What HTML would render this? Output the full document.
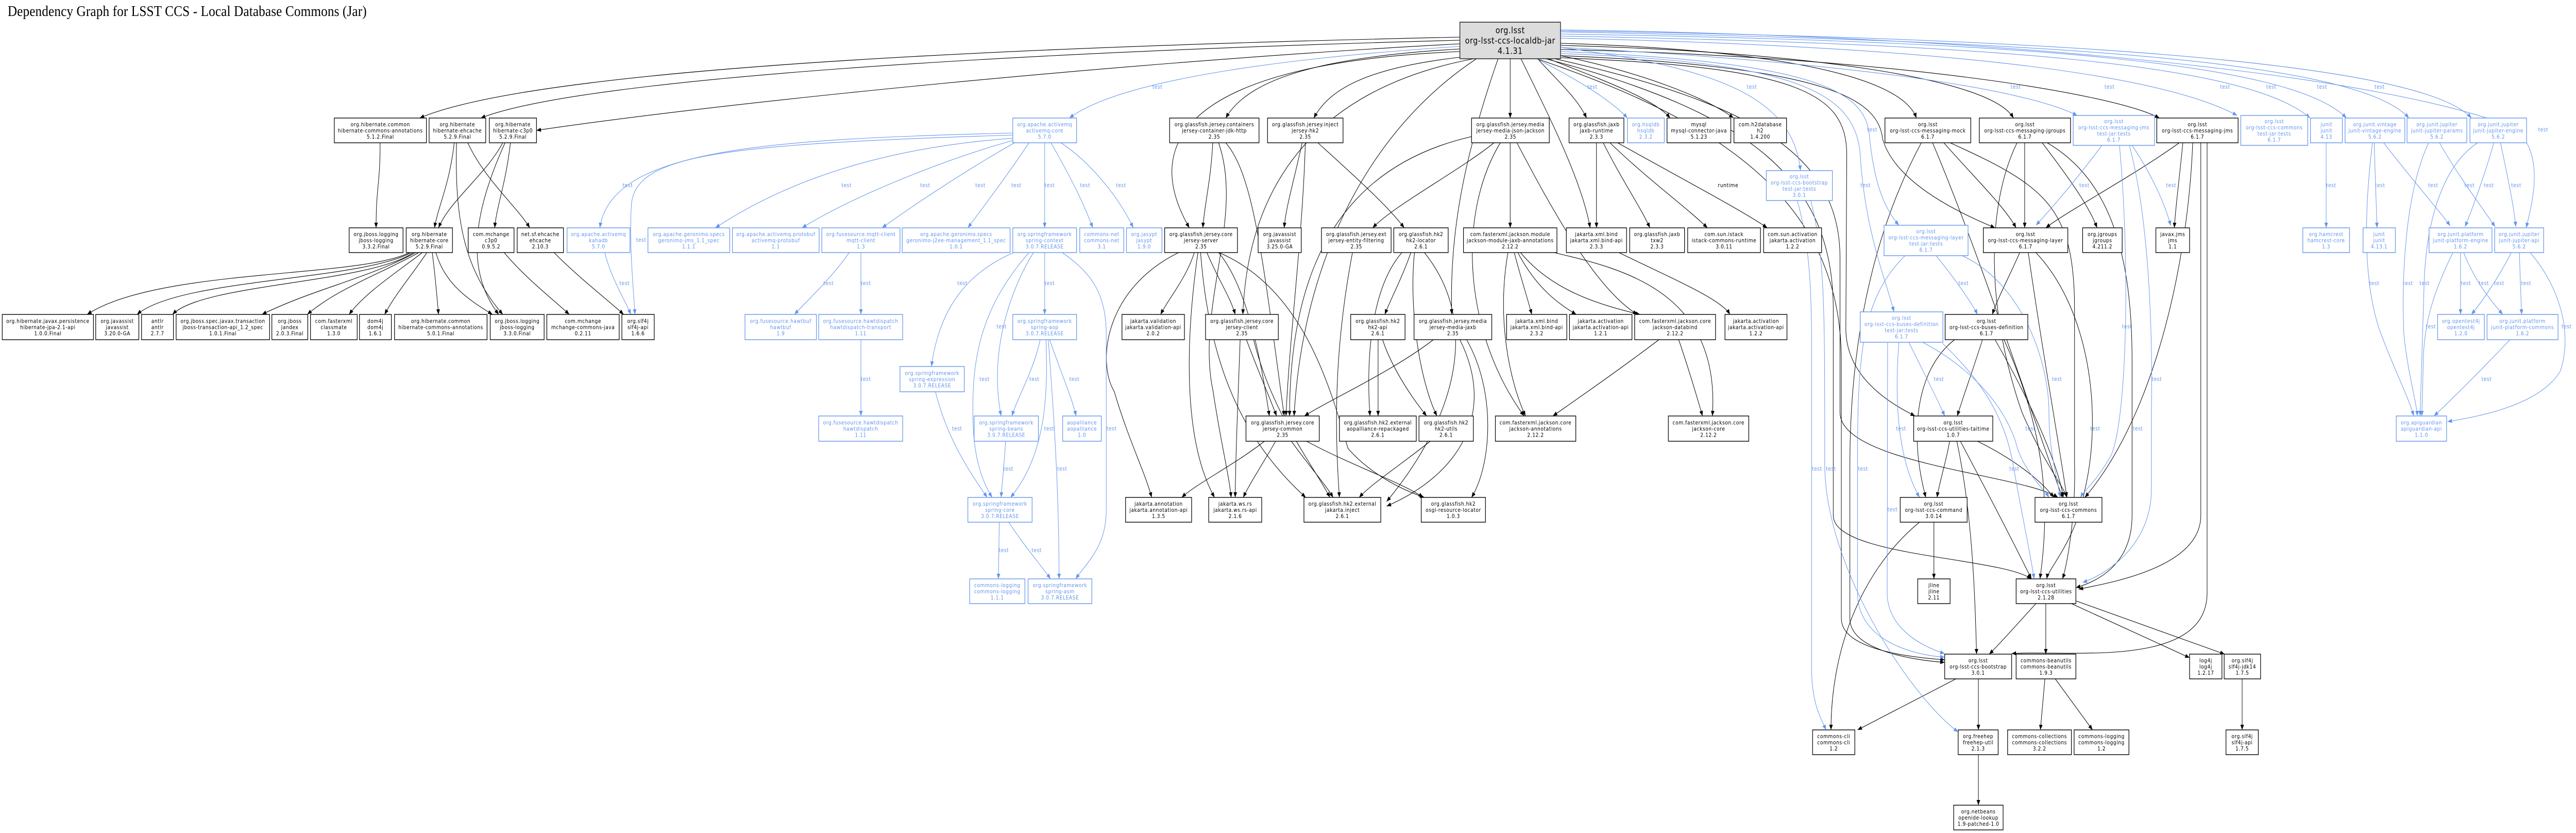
<!DOCTYPE html>
<html>
<head>
<meta charset="utf-8">
<style>
html,body{margin:0;padding:0;background:#fff;width:100%;height:100%;overflow:hidden;}
svg{display:block;width:100vw;height:100vh;}
text{font-family:"DejaVu Sans","Liberation Sans",sans-serif;font-size:10.5px;letter-spacing:0.6px;text-anchor:middle;fill:#000;}
.k rect{fill:#fff;stroke:#000;stroke-width:1.4;}
.b rect{fill:#fff;stroke:#6495ED;stroke-width:1.4;}
.b text{fill:#6495ED;}
.lb text{fill:#6495ED;}
.title{font-family:"Liberation Serif",serif;font-size:29px;letter-spacing:0;text-anchor:start;}
.root rect{fill:#dcdcdc;stroke:#222;stroke-width:1.5;}
.root text{font-size:16.5px;}
</style>
</head>
<body>
<svg xmlns="http://www.w3.org/2000/svg" viewBox="0 0 5733 1616" preserveAspectRatio="none">
<defs>
<marker id="a" viewBox="0 0 10 8" refX="10" refY="4" markerWidth="10" markerHeight="8" markerUnits="userSpaceOnUse" orient="auto"><path d="M0,0L10,4L0,8z" fill="#000"/></marker>
<marker id="c" viewBox="0 0 10 8" refX="10" refY="4" markerWidth="10" markerHeight="8" markerUnits="userSpaceOnUse" orient="auto"><path d="M0,0L10,4L0,8z" fill="#6495ED"/></marker>
</defs>
<rect x="0" y="0" width="5733" height="1616" fill="#fff"/>
<text class="title" x="17" y="31" textLength="799" lengthAdjust="spacing">Dependency Graph for LSST CCS - Local Database Commons (Jar)</text>

<!-- black edges -->
<g fill="none" stroke="#000" stroke-width="1.1" marker-end="url(#a)">
<path d="M3249,72 C2300,90 1200,130 934,229"/>
<path d="M3249,78 C2300,100 1300,150 1070,229"/>
<path d="M3249,85 C2500,120 1600,200 1194,253"/>
<path d="M846,277 C846,360 837,360 837,442"/>
<path d="M1011,277 C1000,360 975,400 967,442"/>
<path d="M1016,277 C1012,420 1030,520 1119,610"/>
<path d="M1041,277 C1080,350 1150,400 1179,442"/>
<path d="M1119,277 C1080,340 1000,390 976,442"/>
<path d="M1124,277 C1060,400 1030,520 1110,610"/>
<path d="M1136,277 C1125,360 1105,400 1101,442"/>
<path d="M911,490 C800,540 350,520 194,610"/>
<path d="M915,490 C800,545 400,540 305,610"/>
<path d="M920,490 C820,550 450,550 384,610"/>
<path d="M925,490 C820,540 700,560 583,610"/>
<path d="M932,490 C850,530 750,560 684,610"/>
<path d="M940,490 C880,530 810,570 777,610"/>
<path d="M950,490 C920,530 880,570 856,610"/>
<path d="M962,490 C968,530 972,570 976,610"/>
<path d="M970,490 C990,550 1040,580 1096,610"/>
<path d="M1122,490 C1170,540 1230,580 1267,610"/>
<path d="M1233,490 C1290,540 1350,580 1388,610"/>

<path d="M3249,95 C2950,110 2780,150 2728,229"/>
<path d="M3260,110 C3050,130 2960,170 2924,229"/>
<path d="M3249,100 C2700,120 2520,250 2647,442"/>
<path d="M3280,114 C3000,160 2780,300 2766,610"/>
<path d="M3286,114 C3050,250 2900,500 2880,807"/>
<path d="M3334,114 C3260,300 3225,450 3231,610"/>
<path d="M3361,114 L3361,229"/>
<path d="M3422,114 C3470,160 3510,190 3531,229"/>
<path d="M3385,114 C3450,230 3520,350 3539,442"/>
<path d="M3446,114 C3550,150 3680,190 3717,229"/>
<path d="M3473,108 C3650,140 3800,190 3858,229"/>
<path d="M2699,277 C2695,350 2680,400 2677,442"/>
<path d="M2728,277 C2790,340 2810,500 2858,807"/>
<path d="M2712,277 C2770,420 2660,600 2700,760 C2715,850 2735,920 2740,965"/>
<path d="M2658,490 C2640,540 2600,580 2583,610"/>
<path d="M2686,490 C2710,540 2740,580 2749,610"/>
<path d="M2712,490 C2780,560 2810,720 2825,807"/>
<path d="M2623,490 C2460,560 2440,700 2480,760 C2510,850 2550,920 2563,965"/>
<path d="M2666,490 C2640,650 2630,850 2703,965"/>
<path d="M2672,490 C2690,700 2760,850 2906,965"/>
<path d="M2713,490 C2900,560 2960,750 3000,870 C3050,920 3120,950 3170,965"/>
<path d="M2774,659 C2800,720 2830,780 2841,807"/>
<path d="M2760,659 C2755,780 2750,880 2749,965"/>
<path d="M2790,659 C2830,800 2920,900 2960,965"/>
<path d="M2898,277 C2880,350 2862,400 2858,442"/>
<path d="M2905,277 C2900,450 2870,650 2862,807"/>
<path d="M2933,277 C3000,330 3090,400 3125,442"/>
<path d="M3010,490 C2975,650 2967,800 2981,965"/>
<path d="M3120,490 C3050,560 3040,700 3049,807"/>
<path d="M3140,490 C3120,540 3095,580 3082,610"/>
<path d="M3148,490 C3135,600 3160,740 3198,807"/>
<path d="M3170,490 C3290,620 3250,800 3086,973"/>
<path d="M3067,659 L3067,807"/>
<path d="M3077,659 C3100,720 3150,780 3175,807"/>
<path d="M3183,856 C3120,900 3050,940 3025,965"/>
<path d="M2814,856 C2750,900 2660,940 2630,965"/>
<path d="M2839,856 C2810,900 2780,940 2767,965"/>
<path d="M2874,856 C2910,900 2950,940 2967,965"/>
<path d="M2908,856 C3000,900 3130,940 3167,965"/>
<path d="M3190,659 C3100,720 2950,780 2903,807"/>
<path d="M3264,659 C3330,760 3320,900 3275,965"/>
<path d="M3249,659 C3330,800 3250,920 3086,982"/>
<path d="M3361,277 L3361,442"/>
<path d="M3325,277 C3250,330 3100,400 3055,442"/>
<path d="M3275,265 C3000,320 2870,500 2870,807"/>
<path d="M3339,277 C3240,420 3260,650 3392,807"/>
<path d="M3376,277 C3450,400 3550,560 3644,610"/>
<path d="M3370,490 C3385,540 3400,580 3409,610"/>
<path d="M3378,490 C3420,560 3470,590 3508,610"/>
<path d="M3384,490 C3450,560 3550,590 3650,610"/>
<path d="M3356,490 C3330,620 3360,740 3395,807"/>
<path d="M3459,490 C3600,520 3830,560 3811,807"/>
<path d="M3692,659 C3600,720 3500,780 3456,807"/>
<path d="M3736,659 C3760,720 3780,780 3789,807"/>
<path d="M3553,277 L3553,442"/>
<path d="M3568,277 C3610,350 3650,400 3672,442"/>
<path d="M3583,277 C3670,350 3750,400 3800,442"/>
<path d="M3600,277 C3750,350 3880,410 3933,442"/>
<path d="M3603,490 C3720,540 3830,580 3850,610"/>

<path d="M3473,84 C3900,95 4230,140 4265,229"/>
<path d="M3473,88 C4000,100 4430,150 4481,229"/>
<path d="M3473,96 C4200,110 4700,180 4806,229"/>
<path d="M3473,108 C4100,130 4180,200 4190,270 C4220,360 4380,420 4440,442"/>
<path d="M3473,112 C4000,130 4110,180 4110,300 L4108,640 C4110,730 4200,780 4262,807"/>
<path d="M3460,114 C3900,200 4095,300 4095,500 L4095,800 C4095,900 4500,920 4580,965"/>
<path d="M3440,114 C3900,220 4080,350 4080,600 L4080,1000 C4080,1080 4450,1080 4521,1123"/>
<path d="M3420,114 C3850,240 4098,400 4098,700 L4098,1200 C4098,1260 4250,1275 4328,1280"/>
<path d="M4276,277 C4200,400 4117,600 4117,900 L4117,1200 C4117,1260 4250,1280 4328,1285"/>
<path d="M4326,277 C4400,350 4460,400 4487,442"/>
<path d="M4301,277 C4400,480 4520,800 4590,965"/>
<path d="M4340,277 C4550,360 4617,400 4617,600 L4617,900 C4620,1000 4600,1100 4590,1123"/>
<path d="M4506,277 L4506,442"/>
<path d="M4545,277 C4600,340 4650,400 4667,442"/>
<path d="M4489,277 C4420,400 4420,600 4500,800 C4550,900 4590,940 4600,965"/>
<path d="M4556,277 C4700,350 4745,500 4745,700 L4745,1000 C4745,1100 4660,1130 4620,1140"/>
<path d="M4850,277 C4750,340 4600,410 4553,442"/>
<path d="M4858,277 C4850,350 4842,400 4839,442"/>
<path d="M4880,277 C4870,500 4800,800 4640,965"/>
<path d="M4898,277 L4898,1000 C4898,1100 4700,1130 4626,1143"/>
<path d="M4912,277 L4912,1150 C4912,1300 4600,1260 4477,1268"/>
<path d="M4495,490 C4470,540 4445,580 4434,610"/>
<path d="M4514,490 C4540,650 4580,850 4600,965"/>
<path d="M4531,490 C4650,600 4680,800 4640,950 C4620,1050 4560,1100 4555,1123"/>
<path d="M4412,659 C4390,720 4365,780 4356,807"/>
<path d="M4440,659 C4520,780 4580,900 4592,965"/>
<path d="M4460,659 C4560,850 4560,1000 4540,1123"/>
<path d="M4350,659 C4260,720 4250,850 4286,965"/>
<path d="M4401,856 C4480,890 4540,930 4571,965"/>
<path d="M4363,856 C4420,950 4480,1050 4521,1123"/>
<path d="M4355,856 C4390,1000 4395,1150 4399,1269"/>
<path d="M4339,856 C4330,900 4315,940 4311,965"/>
<path d="M4304,1013 L4304,1123"/>
<path d="M4272,1013 C4150,1100 4075,1250 4075,1416"/>
<path d="M4353,1317 L4134,1416"/>
<path d="M4403,1317 L4403,1416"/>
<path d="M4403,1464 L4403,1562"/>
<path d="M4531,1171 C4490,1210 4450,1250 4427,1269"/>
<path d="M4553,1171 L4553,1269"/>
<path d="M4610,1171 L4873,1276"/>
<path d="M4621,1166 L4951,1269"/>
<path d="M4551,1317 L4541,1416"/>
<path d="M4574,1317 L4657,1416"/>
<path d="M4990,1317 L4990,1416"/>
</g>

<!-- blue (test) edges -->
<g fill="none" stroke="#6495ED" stroke-width="1.1" marker-end="url(#c)">
<path d="M3249,90 C2900,110 2500,150 2380,229"/>
<path d="M2254,258 C1700,270 1360,290 1335,442"/>
<path d="M2254,262 C1600,280 1410,300 1405,400 C1400,480 1410,560 1413,610"/>
<path d="M2256,268 C1900,290 1700,380 1592,442"/>
<path d="M2256,272 C2100,310 1900,380 1785,442"/>
<path d="M2258,277 C2150,330 2030,400 1963,442"/>
<path d="M2290,277 C2250,330 2190,400 2154,442"/>
<path d="M2325,277 L2325,442"/>
<path d="M2339,277 C2380,340 2410,390 2432,442"/>
<path d="M2361,277 C2420,310 2490,380 2522,442"/>
<path d="M1346,490 C1360,540 1390,580 1404,610"/>
<path d="M1890,490 C1850,540 1800,580 1768,610"/>
<path d="M1916,490 L1916,610"/>
<path d="M1916,659 L1916,807"/>
<path d="M2256,490 C2150,530 2090,600 2073,711"/>
<path d="M2325,490 L2325,610"/>
<path d="M2300,490 C2250,560 2200,680 2228,807"/>
<path d="M2290,490 C2180,600 2160,700 2166,830 C2170,900 2190,940 2208,965"/>
<path d="M2364,490 C2430,530 2462,570 2462,650 L2462,990 C2462,1060 2420,1090 2394,1123"/>
<path d="M2315,659 C2300,720 2265,770 2252,807"/>
<path d="M2336,659 C2360,720 2385,770 2395,807"/>
<path d="M2328,659 C2332,760 2330,880 2249,965"/>
<path d="M2333,659 C2345,800 2357,950 2357,1123"/>
<path d="M2082,760 C2110,860 2170,930 2197,965"/>
<path d="M2238,856 C2235,900 2230,940 2228,965"/>
<path d="M2224,1013 L2222,1123"/>
<path d="M2245,1013 C2280,1060 2320,1100 2338,1123"/>
<path d="M3420,114 C3500,150 3580,190 3622,229"/>
<path d="M3473,92 C3800,130 3990,180 4007,331"/>
<path d="M3473,92 C4100,120 4500,170 4623,224"/>
<path d="M3473,74 C4300,90 4800,140 4979,224"/>
<path d="M3473,70 C4400,85 5000,120 5141,229"/>
<path d="M3473,66 C4500,80 5100,120 5222,229"/>
<path d="M3473,62 C4600,80 5250,120 5361,229"/>
<path d="M3473,60 C4700,75 5400,130 5500,229"/>
<path d="M3473,58 C4500,70 5330,150 5600,250 C5660,300 5640,380 5622,442"/>
<path d="M3473,100 C4050,120 4150,180 4160,260 C4170,350 4190,400 4226,437"/>
<path d="M3473,104 C4000,120 4130,180 4140,300 C4150,450 4200,550 4215,605"/>
<path d="M4000,389 C4035,500 4032,600 4032,800 L4032,1300 C4032,1360 4050,1390 4064,1416"/>
<path d="M4030,389 C4062,500 4061,600 4061,900 C4061,1100 4250,1350 4358,1420"/>
<path d="M4309,496 C4350,540 4390,590 4401,610"/>
<path d="M4367,496 C4500,550 4560,700 4560,800 C4560,880 4580,930 4585,965"/>
<path d="M4240,496 C4140,580 4134,700 4134,900 L4134,1150 C4134,1240 4250,1270 4328,1275"/>
<path d="M4248,664 C4280,720 4315,780 4328,807"/>
<path d="M4279,664 C4400,720 4470,800 4490,870 C4510,920 4550,950 4560,965"/>
<path d="M4323,666 C4400,730 4460,800 4480,900 C4500,1000 4520,1080 4527,1123"/>
<path d="M4201,664 L4200,1150 C4200,1220 4280,1255 4328,1268"/>
<path d="M4226,664 C4214,800 4230,900 4272,965"/>
<path d="M4678,282 C4620,350 4560,410 4531,437"/>
<path d="M4745,282 C4790,340 4820,400 4831,438"/>
<path d="M4717,282 C4740,500 4735,800 4700,880 C4670,930 4640,950 4630,965"/>
<path d="M4739,282 C4790,450 4790,700 4788,800 L4788,950 C4788,1050 4700,1110 4635,1130"/>
<path d="M5177,277 L5177,442"/>
<path d="M5284,277 C5286,350 5289,400 5290,442"/>
<path d="M5305,277 C5360,340 5430,410 5453,438"/>
<path d="M5280,277 C5260,420 5260,560 5300,650 C5330,720 5360,770 5372,807"/>
<path d="M5429,277 C5470,340 5530,410 5553,440"/>
<path d="M5405,277 C5350,380 5345,550 5350,650 C5360,730 5378,780 5380,807"/>
<path d="M5550,277 C5530,340 5500,410 5486,440"/>
<path d="M5565,277 C5580,340 5595,400 5599,440"/>
<path d="M5514,277 C5440,320 5400,420 5395,550 C5390,680 5388,760 5386,807"/>
<path d="M5476,490 L5476,610"/>
<path d="M5483,490 C5510,550 5550,590 5570,610"/>
<path d="M5459,490 C5420,560 5395,620 5393,700 C5392,760 5390,790 5390,807"/>
<path d="M5589,490 C5560,540 5520,590 5500,610"/>
<path d="M5607,490 C5609,550 5611,590 5612,610"/>
<path d="M5631,490 C5700,560 5725,650 5698,720 C5650,790 5500,810 5447,818"/>
<path d="M5586,659 C5520,720 5450,780 5417,807"/>
</g>

<!-- edge labels -->
<g class="lb">
<text x="2576" y="172">test</text><text x="1397" y="363">test</text><text x="1427" y="469">test</text><text x="1390" y="553">test</text>
<text x="1884" y="363">test</text><text x="2059" y="363">test</text><text x="2182" y="363">test</text><text x="2262" y="363">test</text>
<text x="2336" y="363">test</text><text x="2415" y="363">test</text><text x="2495" y="363">test</text>
<text x="1844" y="553">test</text><text x="1927" y="553">test</text><text x="2142" y="553">test</text><text x="2336" y="553">test</text>
<text x="2229" y="637">test</text><text x="1927" y="739">test</text><text x="2191" y="739">test</text><text x="2302" y="739">test</text><text x="2391" y="739">test</text>
<text x="2130" y="835">test</text><text x="2335" y="835">test</text><text x="2474" y="835">test</text>
<text x="2244" y="913">test</text><text x="2364" y="913">test</text><text x="2234" y="1071">test</text><text x="2307" y="1071">test</text>
<text x="3544" y="172">test</text><text x="3899" y="172">test</text><text x="4486" y="172">test</text><text x="4695" y="172">test</text>
<text x="4167" y="255">test</text><text x="4152" y="363">test</text><text x="4639" y="363">test</text><text x="4832" y="363">test</text>
<text x="4370" y="553">test</text><text x="4734" y="637">test</text><text x="4315" y="739">test</text><text x="4578" y="739">test</text><text x="4800" y="739">test</text>
<text x="4231" y="835">test</text><text x="4519" y="835">test</text><text x="4663" y="835">test</text><text x="4758" y="835">test</text>
<text x="4952" y="172">test</text><text x="5055" y="172">test</text><text x="5168" y="172">test</text><text x="5296" y="172">test</text><text x="5660" y="255">test</text>
<text x="5188" y="363">test</text><text x="5297" y="363">test</text><text x="5415" y="363">test</text><text x="5496" y="363">test</text><text x="5539" y="363">test</text><text x="5600" y="363">test</text>
<text x="5284" y="553">test</text><text x="5359" y="553">test</text><text x="5396" y="553">test</text><text x="5488" y="553">test</text><text x="5528" y="553">test</text><text x="5562" y="553">test</text><text x="5622" y="553">test</text>
<text x="5410" y="637">test</text><text x="5712" y="637">test</text><text x="5534" y="739">test</text>
<text x="4044" y="913">test</text><text x="4075" y="913">test</text><text x="4146" y="913">test</text><text x="4212" y="992">test</text><text x="4483" y="913">test</text>
</g>
<text x="3846" y="363">runtime</text>

<!-- root -->
<g class="root"><rect x="3249" y="43" width="224" height="71"/>
<text y="64.5"><tspan x="3361">org.lsst</tspan><tspan x="3361" dy="20">org-lsst-ccs-localdb-jar</tspan><tspan x="3361" dy="20">4.1.31</tspan></text></g>

<!-- black nodes -->
<g class="k">
<rect x="744" y="229" width="205" height="48"/><text y="245"><tspan x="846.5">org.hibernate.common</tspan><tspan x="846.5" dy="12">hibernate-commons-annotations</tspan><tspan x="846.5" dy="12">5.1.2.Final</tspan></text>
<rect x="955" y="229" width="126" height="48"/><text y="245"><tspan x="1018">org.hibernate</tspan><tspan x="1018" dy="12">hibernate-ehcache</tspan><tspan x="1018" dy="12">5.2.9.Final</tspan></text>
<rect x="1089" y="229" width="105" height="48"/><text y="245"><tspan x="1141.5">org.hibernate</tspan><tspan x="1141.5" dy="12">hibernate-c3p0</tspan><tspan x="1141.5" dy="12">5.2.9.Final</tspan></text>
<rect x="777" y="442" width="120" height="48"/><text y="458"><tspan x="837">org.jboss.logging</tspan><tspan x="837" dy="12">jboss-logging</tspan><tspan x="837" dy="12">3.3.2.Final</tspan></text>
<rect x="904" y="442" width="103" height="48"/><text y="458"><tspan x="955.5">org.hibernate</tspan><tspan x="955.5" dy="12">hibernate-core</tspan><tspan x="955.5" dy="12">5.2.9.Final</tspan></text>
<rect x="1042" y="442" width="102" height="48"/><text y="458"><tspan x="1093">com.mchange</tspan><tspan x="1093" dy="12">c3p0</tspan><tspan x="1093" dy="12">0.9.5.2</tspan></text>
<rect x="1151" y="442" width="103" height="48"/><text y="458"><tspan x="1202.5">net.sf.ehcache</tspan><tspan x="1202.5" dy="12">ehcache</tspan><tspan x="1202.5" dy="12">2.10.3</tspan></text>
<rect x="5" y="610" width="203" height="49"/><text y="626.5"><tspan x="106.5">org.hibernate.javax.persistence</tspan><tspan x="106.5" dy="12">hibernate-jpa-2.1-api</tspan><tspan x="106.5" dy="12">1.0.0.Final</tspan></text>
<rect x="213" y="610" width="96" height="49"/><text y="626.5"><tspan x="261">org.javassist</tspan><tspan x="261" dy="12">javassist</tspan><tspan x="261" dy="12">3.20.0-GA</tspan></text>
<rect x="315" y="610" width="71" height="49"/><text y="626.5"><tspan x="350.5">antlr</tspan><tspan x="350.5" dy="12">antlr</tspan><tspan x="350.5" dy="12">2.7.7</tspan></text>
<rect x="392" y="610" width="208" height="49"/><text y="626.5"><tspan x="496">org.jboss.spec.javax.transaction</tspan><tspan x="496" dy="12">jboss-transaction-api_1.2_spec</tspan><tspan x="496" dy="12">1.0.1.Final</tspan></text>
<rect x="605" y="610" width="80" height="49"/><text y="626.5"><tspan x="645">org.jboss</tspan><tspan x="645" dy="12">jandex</tspan><tspan x="645" dy="12">2.0.3.Final</tspan></text>
<rect x="691" y="610" width="104" height="49"/><text y="626.5"><tspan x="743">com.fasterxml</tspan><tspan x="743" dy="12">classmate</tspan><tspan x="743" dy="12">1.3.0</tspan></text>
<rect x="800" y="610" width="71" height="49"/><text y="626.5"><tspan x="835.5">dom4j</tspan><tspan x="835.5" dy="12">dom4j</tspan><tspan x="835.5" dy="12">1.6.1</tspan></text>
<rect x="878" y="610" width="206" height="49"/><text y="626.5"><tspan x="981">org.hibernate.common</tspan><tspan x="981" dy="12">hibernate-commons-annotations</tspan><tspan x="981" dy="12">5.0.1.Final</tspan></text>
<rect x="1091" y="610" width="120" height="49"/><text y="626.5"><tspan x="1151">org.jboss.logging</tspan><tspan x="1151" dy="12">jboss-logging</tspan><tspan x="1151" dy="12">3.3.0.Final</tspan></text>
<rect x="1217" y="610" width="161" height="49"/><text y="626.5"><tspan x="1297.5">com.mchange</tspan><tspan x="1297.5" dy="12">mchange-commons-java</tspan><tspan x="1297.5" dy="12">0.2.11</tspan></text>
<rect x="1384" y="610" width="72" height="49"/><text y="626.5"><tspan x="1420">org.slf4j</tspan><tspan x="1420" dy="12">slf4j-api</tspan><tspan x="1420" dy="12">1.6.6</tspan></text>

<rect x="2603" y="229" width="199" height="48"/><text y="245"><tspan x="2702.5">org.glassfish.jersey.containers</tspan><tspan x="2702.5" dy="12">jersey-container-jdk-http</tspan><tspan x="2702.5" dy="12">2.35</tspan></text>
<rect x="2821" y="229" width="168" height="48"/><text y="245"><tspan x="2905">org.glassfish.jersey.inject</tspan><tspan x="2905" dy="12">jersey-hk2</tspan><tspan x="2905" dy="12">2.35</tspan></text>
<rect x="2592" y="442" width="162" height="48"/><text y="458"><tspan x="2673">org.glassfish.jersey.core</tspan><tspan x="2673" dy="12">jersey-server</tspan><tspan x="2673" dy="12">2.35</tspan></text>
<rect x="2800" y="442" width="96" height="48"/><text y="458"><tspan x="2848">org.javassist</tspan><tspan x="2848" dy="12">javassist</tspan><tspan x="2848" dy="12">3.25.0-GA</tspan></text>
<rect x="2941" y="442" width="155" height="48"/><text y="458"><tspan x="3018.5">org.glassfish.jersey.ext</tspan><tspan x="3018.5" dy="12">jersey-entity-filtering</tspan><tspan x="3018.5" dy="12">2.35</tspan></text>
<rect x="3102" y="442" width="121" height="48"/><text y="458"><tspan x="3162.5">org.glassfish.hk2</tspan><tspan x="3162.5" dy="12">hk2-locator</tspan><tspan x="3162.5" dy="12">2.6.1</tspan></text>
<rect x="2497" y="610" width="139" height="49"/><text y="626.5"><tspan x="2566.5">jakarta.validation</tspan><tspan x="2566.5" dy="12">jakarta.validation-api</tspan><tspan x="2566.5" dy="12">2.0.2</tspan></text>
<rect x="2683" y="610" width="162" height="49"/><text y="626.5"><tspan x="2764">org.glassfish.jersey.core</tspan><tspan x="2764" dy="12">jersey-client</tspan><tspan x="2764" dy="12">2.35</tspan></text>
<rect x="3006" y="610" width="121" height="49"/><text y="626.5"><tspan x="3066.5">org.glassfish.hk2</tspan><tspan x="3066.5" dy="12">hk2-api</tspan><tspan x="3066.5" dy="12">2.6.1</tspan></text>
<rect x="3147" y="610" width="173" height="49"/><text y="626.5"><tspan x="3233.5">org.glassfish.jersey.media</tspan><tspan x="3233.5" dy="12">jersey-media-jaxb</tspan><tspan x="3233.5" dy="12">2.35</tspan></text>
<rect x="2773" y="807" width="163" height="49"/><text y="823.5"><tspan x="2854.5">org.glassfish.jersey.core</tspan><tspan x="2854.5" dy="12">jersey-common</tspan><tspan x="2854.5" dy="12">2.35</tspan></text>
<rect x="2981" y="807" width="171" height="49"/><text y="823.5"><tspan x="3066.5">org.glassfish.hk2.external</tspan><tspan x="3066.5" dy="12">aopalliance-repackaged</tspan><tspan x="3066.5" dy="12">2.6.1</tspan></text>
<rect x="3158" y="807" width="121" height="49"/><text y="823.5"><tspan x="3218.5">org.glassfish.hk2</tspan><tspan x="3218.5" dy="12">hk2-utils</tspan><tspan x="3218.5" dy="12">2.6.1</tspan></text>
<rect x="2505" y="965" width="147" height="48"/><text y="981"><tspan x="2578.5">jakarta.annotation</tspan><tspan x="2578.5" dy="12">jakarta.annotation-api</tspan><tspan x="2578.5" dy="12">1.3.5</tspan></text>
<rect x="2690" y="965" width="118" height="48"/><text y="981"><tspan x="2749">jakarta.ws.rs</tspan><tspan x="2749" dy="12">jakarta.ws.rs-api</tspan><tspan x="2749" dy="12">2.1.6</tspan></text>
<rect x="2902" y="965" width="171" height="48"/><text y="981"><tspan x="2987.5">org.glassfish.hk2.external</tspan><tspan x="2987.5" dy="12">jakarta.inject</tspan><tspan x="2987.5" dy="12">2.6.1</tspan></text>
<rect x="3163" y="965" width="143" height="48"/><text y="981"><tspan x="3234.5">org.glassfish.hk2</tspan><tspan x="3234.5" dy="12">osgi-resource-locator</tspan><tspan x="3234.5" dy="12">1.0.3</tspan></text>

<rect x="3275" y="229" width="173" height="48"/><text y="245"><tspan x="3361.5">org.glassfish.jersey.media</tspan><tspan x="3361.5" dy="12">jersey-media-json-jackson</tspan><tspan x="3361.5" dy="12">2.35</tspan></text>
<rect x="3492" y="229" width="122" height="48"/><text y="245"><tspan x="3553">org.glassfish.jaxb</tspan><tspan x="3553" dy="12">jaxb-runtime</tspan><tspan x="3553" dy="12">2.3.3</tspan></text>
<rect x="3710" y="229" width="142" height="48"/><text y="245"><tspan x="3781">mysql</tspan><tspan x="3781" dy="12">mysql-connector-java</tspan><tspan x="3781" dy="12">5.1.23</tspan></text>
<rect x="3859" y="229" width="117" height="48"/><text y="245"><tspan x="3917.5">com.h2database</tspan><tspan x="3917.5" dy="12">h2</tspan><tspan x="3917.5" dy="12">1.4.200</tspan></text>
<rect x="3257" y="442" width="208" height="48"/><text y="458"><tspan x="3361">com.fasterxml.jackson.module</tspan><tspan x="3361" dy="12">jackson-module-jaxb-annotations</tspan><tspan x="3361" dy="12">2.12.2</tspan></text>
<rect x="3486" y="442" width="134" height="48"/><text y="458"><tspan x="3553">jakarta.xml.bind</tspan><tspan x="3553" dy="12">jakarta.xml.bind-api</tspan><tspan x="3553" dy="12">2.3.3</tspan></text>
<rect x="3627" y="442" width="122" height="48"/><text y="458"><tspan x="3688">org.glassfish.jaxb</tspan><tspan x="3688" dy="12">txw2</tspan><tspan x="3688" dy="12">2.3.3</tspan></text>
<rect x="3756" y="442" width="162" height="48"/><text y="458"><tspan x="3837">com.sun.istack</tspan><tspan x="3837" dy="12">istack-commons-runtime</tspan><tspan x="3837" dy="12">3.0.11</tspan></text>
<rect x="3925" y="442" width="129" height="48"/><text y="458"><tspan x="3989.5">com.sun.activation</tspan><tspan x="3989.5" dy="12">jakarta.activation</tspan><tspan x="3989.5" dy="12">1.2.2</tspan></text>
<rect x="3353" y="610" width="134" height="49"/><text y="626.5"><tspan x="3420">jakarta.xml.bind</tspan><tspan x="3420" dy="12">jakarta.xml.bind-api</tspan><tspan x="3420" dy="12">2.3.2</tspan></text>
<rect x="3493" y="610" width="139" height="49"/><text y="626.5"><tspan x="3562.5">jakarta.activation</tspan><tspan x="3562.5" dy="12">jakarta.activation-api</tspan><tspan x="3562.5" dy="12">1.2.1</tspan></text>
<rect x="3638" y="610" width="180" height="49"/><text y="626.5"><tspan x="3728">com.fasterxml.jackson.core</tspan><tspan x="3728" dy="12">jackson-databind</tspan><tspan x="3728" dy="12">2.12.2</tspan></text>
<rect x="3839" y="610" width="138" height="49"/><text y="626.5"><tspan x="3908">jakarta.activation</tspan><tspan x="3908" dy="12">jakarta.activation-api</tspan><tspan x="3908" dy="12">1.2.2</tspan></text>
<rect x="3328" y="807" width="179" height="49"/><text y="823.5"><tspan x="3417.5">com.fasterxml.jackson.core</tspan><tspan x="3417.5" dy="12">jackson-annotations</tspan><tspan x="3417.5" dy="12">2.12.2</tspan></text>
<rect x="3713" y="807" width="179" height="49"/><text y="823.5"><tspan x="3802.5">com.fasterxml.jackson.core</tspan><tspan x="3802.5" dy="12">jackson-core</tspan><tspan x="3802.5" dy="12">2.12.2</tspan></text>

<rect x="4195" y="229" width="191" height="48"/><text y="245"><tspan x="4290.5">org.lsst</tspan><tspan x="4290.5" dy="12">org-lsst-ccs-messaging-mock</tspan><tspan x="4290.5" dy="12">6.1.7</tspan></text>
<rect x="4405" y="229" width="203" height="48"/><text y="245"><tspan x="4506.5">org.lsst</tspan><tspan x="4506.5" dy="12">org-lsst-ccs-messaging-jgroups</tspan><tspan x="4506.5" dy="12">6.1.7</tspan></text>
<rect x="4800" y="229" width="181" height="48"/><text y="245"><tspan x="4890.5">org.lsst</tspan><tspan x="4890.5" dy="12">org-lsst-ccs-messaging-jms</tspan><tspan x="4890.5" dy="12">6.1.7</tspan></text>
<rect x="4414" y="442" width="188" height="48"/><text y="458"><tspan x="4508">org.lsst</tspan><tspan x="4508" dy="12">org-lsst-ccs-messaging-layer</tspan><tspan x="4508" dy="12">6.1.7</tspan></text>
<rect x="4635" y="442" width="88" height="48"/><text y="458"><tspan x="4679">org.jgroups</tspan><tspan x="4679" dy="12">jgroups</tspan><tspan x="4679" dy="12">4.211.2</tspan></text>
<rect x="4798" y="442" width="75" height="48"/><text y="458"><tspan x="4835.5">javax.jms</tspan><tspan x="4835.5" dy="12">jms</tspan><tspan x="4835.5" dy="12">1.1</tspan></text>
<rect x="4329" y="610" width="184" height="49"/><text y="626.5"><tspan x="4421">org.lsst</tspan><tspan x="4421" dy="12">org-lsst-ccs-buses-definition</tspan><tspan x="4421" dy="12">6.1.7</tspan></text>
<rect x="4259" y="807" width="176" height="49"/><text y="823.5"><tspan x="4347">org.lsst</tspan><tspan x="4347" dy="12">org-lsst-ccs-utilities-taitime</tspan><tspan x="4347" dy="12">1.0.7</tspan></text>
<rect x="4229" y="965" width="149" height="48"/><text y="981"><tspan x="4303.5">org.lsst</tspan><tspan x="4303.5" dy="12">org-lsst-ccs-command</tspan><tspan x="4303.5" dy="12">3.0.14</tspan></text>
<rect x="4529" y="965" width="149" height="48"/><text y="981"><tspan x="4603.5">org.lsst</tspan><tspan x="4603.5" dy="12">org-lsst-ccs-commons</tspan><tspan x="4603.5" dy="12">6.1.7</tspan></text>
<rect x="4268" y="1123" width="72" height="48"/><text y="1139"><tspan x="4304">jline</tspan><tspan x="4304" dy="12">jline</tspan><tspan x="4304" dy="12">2.11</tspan></text>
<rect x="4487" y="1123" width="133" height="48"/><text y="1139"><tspan x="4553.5">org.lsst</tspan><tspan x="4553.5" dy="12">org-lsst-ccs-utilities</tspan><tspan x="4553.5" dy="12">2.1.28</tspan></text>
<rect x="4328" y="1269" width="149" height="48"/><text y="1285"><tspan x="4402.5">org.lsst</tspan><tspan x="4402.5" dy="12">org-lsst-ccs-bootstrap</tspan><tspan x="4402.5" dy="12">3.0.1</tspan></text>
<rect x="4487" y="1269" width="133" height="48"/><text y="1285"><tspan x="4553.5">commons-beanutils</tspan><tspan x="4553.5" dy="12">commons-beanutils</tspan><tspan x="4553.5" dy="12">1.9.3</tspan></text>
<rect x="4873" y="1269" width="72" height="48"/><text y="1285"><tspan x="4909">log4j</tspan><tspan x="4909" dy="12">log4j</tspan><tspan x="4909" dy="12">1.2.17</tspan></text>
<rect x="4950" y="1269" width="81" height="48"/><text y="1285"><tspan x="4990.5">org.slf4j</tspan><tspan x="4990.5" dy="12">slf4j-jdk14</tspan><tspan x="4990.5" dy="12">1.7.5</tspan></text>
<rect x="4034" y="1416" width="94" height="48"/><text y="1432"><tspan x="4081">commons-cli</tspan><tspan x="4081" dy="12">commons-cli</tspan><tspan x="4081" dy="12">1.2</tspan></text>
<rect x="4358" y="1416" width="89" height="48"/><text y="1432"><tspan x="4402.5">org.freehep</tspan><tspan x="4402.5" dy="12">freehep-util</tspan><tspan x="4402.5" dy="12">2.1.3</tspan></text>
<rect x="4468" y="1416" width="142" height="48"/><text y="1432"><tspan x="4539">commons-collections</tspan><tspan x="4539" dy="12">commons-collections</tspan><tspan x="4539" dy="12">3.2.2</tspan></text>
<rect x="4616" y="1416" width="122" height="48"/><text y="1432"><tspan x="4677">commons-logging</tspan><tspan x="4677" dy="12">commons-logging</tspan><tspan x="4677" dy="12">1.2</tspan></text>
<rect x="4954" y="1416" width="72" height="48"/><text y="1432"><tspan x="4990">org.slf4j</tspan><tspan x="4990" dy="12">slf4j-api</tspan><tspan x="4990" dy="12">1.7.5</tspan></text>
<rect x="4348" y="1562" width="110" height="48"/><text y="1578"><tspan x="4403">org.netbeans</tspan><tspan x="4403" dy="12">openide-lookup</tspan><tspan x="4403" dy="12">1.9-patched-1.0</tspan></text>
</g>

<!-- blue nodes -->
<g class="b">
<rect x="1262" y="442" width="140" height="48"/><text y="458"><tspan x="1332">org.apache.activemq</tspan><tspan x="1332" dy="12">kahadb</tspan><tspan x="1332" dy="12">5.7.0</tspan></text>
<rect x="1442" y="442" width="182" height="48"/><text y="458"><tspan x="1533">org.apache.geronimo.specs</tspan><tspan x="1533" dy="12">geronimo-jms_1.1_spec</tspan><tspan x="1533" dy="12">1.1.1</tspan></text>
<rect x="1630" y="442" width="193" height="48"/><text y="458"><tspan x="1726.5">org.apache.activemq.protobuf</tspan><tspan x="1726.5" dy="12">activemq-protobuf</tspan><tspan x="1726.5" dy="12">1.1</tspan></text>
<rect x="1829" y="442" width="174" height="48"/><text y="458"><tspan x="1916">org.fusesource.mqtt-client</tspan><tspan x="1916" dy="12">mqtt-client</tspan><tspan x="1916" dy="12">1.3</tspan></text>
<rect x="2008" y="442" width="240" height="48"/><text y="458"><tspan x="2128">org.apache.geronimo.specs</tspan><tspan x="2128" dy="12">geronimo-j2ee-management_1.1_spec</tspan><tspan x="2128" dy="12">1.0.1</tspan></text>
<rect x="1658" y="610" width="159" height="49"/><text y="626.5"><tspan x="1737.5">org.fusesource.hawtbuf</tspan><tspan x="1737.5" dy="12">hawtbuf</tspan><tspan x="1737.5" dy="12">1.9</tspan></text>
<rect x="1822" y="610" width="187" height="49"/><text y="626.5"><tspan x="1915.5">org.fusesource.hawtdispatch</tspan><tspan x="1915.5" dy="12">hawtdispatch-transport</tspan><tspan x="1915.5" dy="12">1.11</tspan></text>
<rect x="2003" y="711" width="143" height="49"/><text y="727.5"><tspan x="2074.5">org.springframework</tspan><tspan x="2074.5" dy="12">spring-expression</tspan><tspan x="2074.5" dy="12">3.0.7.RELEASE</tspan></text>
<rect x="1822" y="807" width="187" height="49"/><text y="823.5"><tspan x="1915.5">org.fusesource.hawtdispatch</tspan><tspan x="1915.5" dy="12">hawtdispatch</tspan><tspan x="1915.5" dy="12">1.11</tspan></text>
<rect x="2168" y="807" width="143" height="49"/><text y="823.5"><tspan x="2239.5">org.springframework</tspan><tspan x="2239.5" dy="12">spring-beans</tspan><tspan x="2239.5" dy="12">3.0.7.RELEASE</tspan></text>
<rect x="2365" y="807" width="86" height="49"/><text y="823.5"><tspan x="2408">aopalliance</tspan><tspan x="2408" dy="12">aopalliance</tspan><tspan x="2408" dy="12">1.0</tspan></text>
<rect x="2154" y="965" width="143" height="48"/><text y="981"><tspan x="2225.5">org.springframework</tspan><tspan x="2225.5" dy="12">spring-core</tspan><tspan x="2225.5" dy="12">3.0.7.RELEASE</tspan></text>
<rect x="2158" y="1123" width="123" height="48"/><text y="1139"><tspan x="2219.5">commons-logging</tspan><tspan x="2219.5" dy="12">commons-logging</tspan><tspan x="2219.5" dy="12">1.1.1</tspan></text>
<rect x="2288" y="1123" width="142" height="48"/><text y="1139"><tspan x="2359">org.springframework</tspan><tspan x="2359" dy="12">spring-asm</tspan><tspan x="2359" dy="12">3.0.7.RELEASE</tspan></text>
<rect x="2254" y="229" width="142" height="48"/><text y="245"><tspan x="2325">org.apache.activemq</tspan><tspan x="2325" dy="12">activemq-core</tspan><tspan x="2325" dy="12">5.7.0</tspan></text>
<rect x="2254" y="442" width="142" height="48"/><text y="458"><tspan x="2325">org.springframework</tspan><tspan x="2325" dy="12">spring-context</tspan><tspan x="2325" dy="12">3.0.7.RELEASE</tspan></text>
<rect x="2403" y="442" width="98" height="48"/><text y="458"><tspan x="2452">commons-net</tspan><tspan x="2452" dy="12">commons-net</tspan><tspan x="2452" dy="12">3.1</tspan></text>
<rect x="2507" y="442" width="79" height="48"/><text y="458"><tspan x="2546.5">org.jasypt</tspan><tspan x="2546.5" dy="12">jasypt</tspan><tspan x="2546.5" dy="12">1.9.0</tspan></text>
<rect x="2254" y="610" width="142" height="49"/><text y="626.5"><tspan x="2325">org.springframework</tspan><tspan x="2325" dy="12">spring-aop</tspan><tspan x="2325" dy="12">3.0.7.RELEASE</tspan></text>
<rect x="3622" y="229" width="82" height="48"/><text y="245"><tspan x="3663">org.hsqldb</tspan><tspan x="3663" dy="12">hsqldb</tspan><tspan x="3663" dy="12">2.3.2</tspan></text>
<rect x="3931" y="331" width="147" height="58"/><text y="346"><tspan x="4004.5">org.lsst</tspan><tspan x="4004.5" dy="12">org-lsst-ccs-bootstrap</tspan><tspan x="4004.5" dy="12">test-jar:tests</tspan><tspan x="4004.5" dy="12">3.0.1</tspan></text>
<rect x="4614" y="224" width="181" height="58"/><text y="239"><tspan x="4704.5">org.lsst</tspan><tspan x="4704.5" dy="12">org-lsst-ccs-messaging-jms</tspan><tspan x="4704.5" dy="12">test-jar:tests</tspan><tspan x="4704.5" dy="12">6.1.7</tspan></text>
<rect x="4193" y="437" width="187" height="59"/><text y="452.5"><tspan x="4286.5">org.lsst</tspan><tspan x="4286.5" dy="12">org-lsst-ccs-messaging-layer</tspan><tspan x="4286.5" dy="12">test-jar:tests</tspan><tspan x="4286.5" dy="12">6.1.7</tspan></text>
<rect x="4140" y="605" width="184" height="59"/><text y="620.5"><tspan x="4232">org.lsst</tspan><tspan x="4232" dy="12">org-lsst-ccs-buses-definition</tspan><tspan x="4232" dy="12">test-jar:tests</tspan><tspan x="4232" dy="12">6.1.7</tspan></text>
<rect x="4987" y="224" width="149" height="58"/><text y="239"><tspan x="5061.5">org.lsst</tspan><tspan x="5061.5" dy="12">org-lsst-ccs-commons</tspan><tspan x="5061.5" dy="12">test-jar:tests</tspan><tspan x="5061.5" dy="12">6.1.7</tspan></text>
<rect x="5142" y="229" width="71" height="48"/><text y="245"><tspan x="5177.5">junit</tspan><tspan x="5177.5" dy="12">junit</tspan><tspan x="5177.5" dy="12">4.13</tspan></text>
<rect x="5219" y="229" width="133" height="48"/><text y="245"><tspan x="5285.5">org.junit.vintage</tspan><tspan x="5285.5" dy="12">junit-vintage-engine</tspan><tspan x="5285.5" dy="12">5.6.2</tspan></text>
<rect x="5357" y="229" width="133" height="48"/><text y="245"><tspan x="5423.5">org.junit.jupiter</tspan><tspan x="5423.5" dy="12">junit-jupiter-params</tspan><tspan x="5423.5" dy="12">5.6.2</tspan></text>
<rect x="5497" y="229" width="126" height="48"/><text y="245"><tspan x="5560">org.junit.jupiter</tspan><tspan x="5560" dy="12">junit-jupiter-engine</tspan><tspan x="5560" dy="12">5.6.2</tspan></text>
<rect x="5125" y="442" width="104" height="48"/><text y="458"><tspan x="5177">org.hamcrest</tspan><tspan x="5177" dy="12">hamcrest-core</tspan><tspan x="5177" dy="12">1.3</tspan></text>
<rect x="5259" y="442" width="72" height="48"/><text y="458"><tspan x="5295">junit</tspan><tspan x="5295" dy="12">junit</tspan><tspan x="5295" dy="12">4.13.1</tspan></text>
<rect x="5406" y="442" width="140" height="48"/><text y="458"><tspan x="5476">org.junit.platform</tspan><tspan x="5476" dy="12">junit-platform-engine</tspan><tspan x="5476" dy="12">1.6.2</tspan></text>
<rect x="5552" y="442" width="109" height="48"/><text y="458"><tspan x="5606.5">org.junit.jupiter</tspan><tspan x="5606.5" dy="12">junit-jupiter-api</tspan><tspan x="5606.5" dy="12">5.6.2</tspan></text>
<rect x="5425" y="610" width="104" height="49"/><text y="626.5"><tspan x="5477">org.opentest4j</tspan><tspan x="5477" dy="12">opentest4j</tspan><tspan x="5477" dy="12">1.2.0</tspan></text>
<rect x="5535" y="610" width="158" height="49"/><text y="626.5"><tspan x="5614">org.junit.platform</tspan><tspan x="5614" dy="12">junit-platform-commons</tspan><tspan x="5614" dy="12">1.6.2</tspan></text>
<rect x="5333" y="807" width="112" height="49"/><text y="823.5"><tspan x="5389">org.apiguardian</tspan><tspan x="5389" dy="12">apiguardian-api</tspan><tspan x="5389" dy="12">1.1.0</tspan></text>
</g>
</svg>
</body>
</html>
